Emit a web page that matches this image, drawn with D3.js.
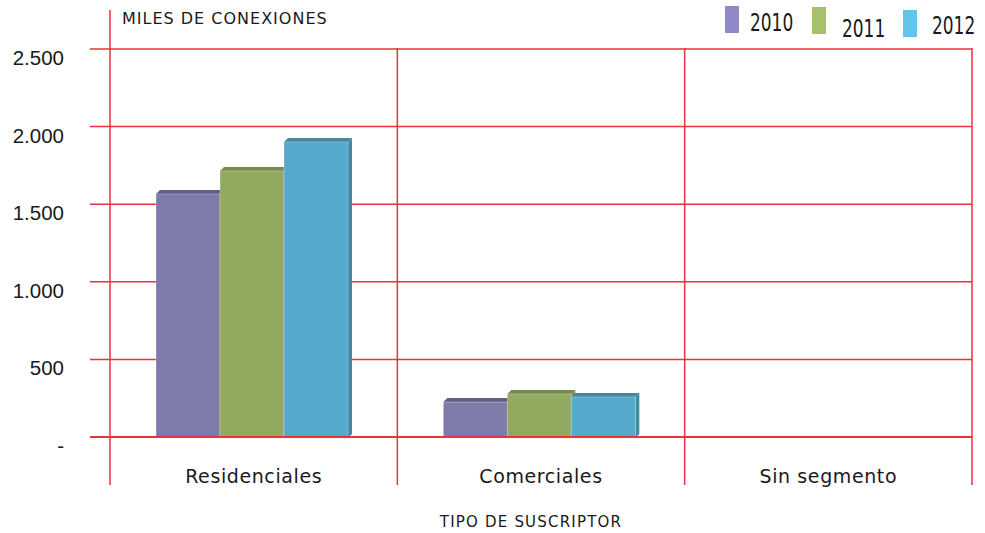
<!DOCTYPE html>
<html><head><meta charset="utf-8">
<script src="https://cdn.jsdelivr.net/npm/d3@7"></script>
<style>
body{margin:0;background:#fff;}
text{font-family:"Liberation Sans",Arial,sans-serif;fill:#1a1a1a;}
</style></head>
<body><svg id="c" width="985" height="533"></svg>
<script>
const categories = ["Residenciales","Comerciales","Sin segmento"];
const years = ["2010","2011","2012"];
const values2010 = [1566, 225, 0];
const values2011 = [1714, 277, 0];
const values2012 = [1901, 258, 0];
const yTicks = [0,500,1000,1500,2000,2500];
const yTickLabels = ["-","500","1.000","1.500","2.000","2.500"];
const frontColors = ["#7E7BAB","#92AA60","#55A9CA"];
const topColors = ["#625E87","#778B4D","#45889F"];
const legendColors = ["#8F8AC6","#A5C16D","#60C5E9"];

const series = [values2010, values2011, values2012];
const svg = d3.select("#c");
const red = "#E8323C";

const x = d3.scaleBand().domain(categories).range([110,972]).padding(0);
const xs = d3.scaleBand().domain(years).range([46, 46+192]).padding(0);
const y = d3.scaleLinear().domain([0,2500]).range([437,49]);

svg.append("g").selectAll("line").data(yTicks.filter(d=>d>0)).join("line")
  .attr("x1",90).attr("x2",972).attr("y1",d=>y(d)).attr("y2",d=>y(d))
  .attr("stroke",red).attr("stroke-width",1.5);
svg.append("line").attr("x1",110).attr("x2",110).attr("y1",10).attr("y2",485).attr("stroke",red).attr("stroke-width",1.5);
svg.append("g").selectAll("line").data(categories).join("line")
  .attr("x1",d=>x(d)+x.bandwidth()).attr("x2",d=>x(d)+x.bandwidth())
  .attr("y1",48).attr("y2",485).attr("stroke",red).attr("stroke-width",1.5);

svg.append("g").selectAll("text").data(yTicks).join("text")
  .attr("x",64).attr("y",d=>y(d)+16).attr("text-anchor","end")
  .style("font-size","20.5px").text((d,i)=>yTickLabels[i]);

const dep = 4;
const bars = [];
categories.forEach((c,ci)=>{
  years.forEach((yr,si)=>{
    const v = series[si][ci];
    if(v>0) bars.push({c, yr, si, v});
  });
});
const g = svg.append("g");
bars.forEach(b=>{
  const x0 = x(b.c)+xs(b.yr), w = xs.bandwidth(), yt = y(b.v), yb = y(0)+1;
  g.append("polygon").attr("points",[[x0+w,yt],[x0+w+dep,yt-dep],[x0+w+dep,yb-dep],[x0+w,yb]].join(" "))
    .attr("fill",topColors[b.si]);
  g.append("polygon").attr("points",[[x0,yt],[x0+dep,yt-dep],[x0+w+dep,yt-dep],[x0+w,yt]].join(" "))
    .attr("fill",topColors[b.si]);
  g.append("rect").attr("x",x0).attr("y",yt).attr("width",w).attr("height",yb-yt)
    .attr("fill",frontColors[b.si]).attr("stroke","rgba(255,255,255,0.35)").attr("stroke-width",0.8);
});

svg.append("line").attr("x1",90).attr("x2",972).attr("y1",y(0)).attr("y2",y(0))
  .attr("stroke",red).attr("stroke-width",1.8);

svg.append("g").selectAll("text").data(categories).join("text")
  .attr("x",d=>x(d)+x.bandwidth()/2).attr("y",483).attr("text-anchor","middle")
  .style("font-family","'DejaVu Sans',sans-serif").style("font-size","19px").style("letter-spacing","0.6px")
  .text(d=>d);

svg.append("text").attr("x",531).attr("y",527).attr("text-anchor","middle")
  .style("font-family","'DejaVu Sans',sans-serif").style("font-size","15px").style("letter-spacing","1.2px").text("TIPO DE SUSCRIPTOR");
svg.append("text").attr("x",122).attr("y",24)
  .style("font-family","'DejaVu Sans',sans-serif").style("font-size","16px").style("letter-spacing","1px").text("MILES DE CONEXIONES");

const legX = [725, 812, 903], legSY = [6, 7, 10], legTY = [31, 37, 34], legTX = [750, 842, 932];
const lg = svg.append("g");
years.forEach((yr,i)=>{
  lg.append("rect").attr("x",legX[i]).attr("y",legSY[i]).attr("width",14).attr("height",27).attr("fill",legendColors[i]);
  lg.append("text").attr("transform",`translate(${legTX[i]},${legTY[i]}) scale(0.68,1)`)
    .style("font-family","'DejaVu Sans',sans-serif")
    .style("font-size","25px").text(yr);
});
</script></body></html>
